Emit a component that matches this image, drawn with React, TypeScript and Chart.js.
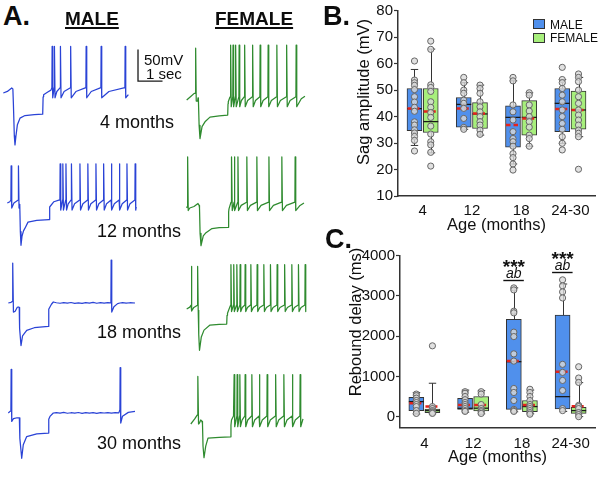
import React, { useEffect, useRef } from 'react';
import { Chart, registerables } from 'chart.js';

Chart.register(...registerables);

const FONT = '"Liberation Sans", Arial, Helvetica, sans-serif';

// ---------------- Panel A : voltage traces (time in s, membrane potential in mV) ----------------
type Pt = [number, number];

// Male 4 months
const M4_PATH: Pt[] = [[0.135, -60], [0.3, -57.5], [0.478, -52.1], [0.525, -53.5], [0.545, -75], [0.585, -128], [0.612, -142], [0.65, -128], [0.71, -110], [0.816, -99.7], [1.02, -95.6], [1.4, -94.2], [1.743, -93.3], [1.76, -66], [1.78, -62.7], [1.95, -58.5], [2.08, -55.5], [5.24, -62.5]];
const M4_SPIKES = [2.122, 2.216, 2.461, 2.878, 3.51, 4.122, 5.102];
const M4_LEVELS = [-51.6, 13.5, -67.5]; // threshold, peak, AHP

// Male 12 months
const M12_PATH: Pt[] = [[0.298, -60], [0.4, -58], [0.8, -62], [0.815, -64], [0.83, -105], [0.857, -126.7], [0.9, -112], [0.96, -104], [1.02, -99.7], [1.143, -90.2], [1.5, -87.5], [2.0, -86.2], [2.015, -70], [2.04, -66.3], [2.2, -58], [2.4, -55.5], [5.56, -66]];
const M12_PRE_SPIKES = [0.449, 0.747];
const M12_PRE_LEVELS = [-55.2, -1.3, -67.9];
const M12_SPIKES = [2.449, 2.559, 2.686, 2.91, 3.257, 3.58, 3.91, 4.224, 4.539, 4.865, 5.176, 5.51];
const M12_LEVELS = [-55.2, 1.9, -71.1];

// Male 18 months
const M18_PATH: Pt[] = [[0.339, -60], [0.45, -59], [0.5, -57.5], [0.62, -73], [0.7, -67], [0.75, -66.3], [0.785, -67], [0.8, -100], [0.857, -127.1], [0.92, -112], [1.09, -103.3], [1.4, -99], [1.971, -97], [1.99, -70], [2.01, -68.4], [2.1, -62], [2.176, -58.4], [2.3, -59.6], [2.45, -60.4], [2.6, -59.5], [2.75, -60.3], [2.9, -59.2], [3.05, -60.5], [3.2, -59.7], [3.35, -60.6], [3.5, -59.3], [3.65, -60.1], [3.8, -59], [3.95, -60.4], [4.1, -59.4], [4.25, -60.2], [4.4, -59.6], [4.5, -59.8], [4.65, -66], [4.8, -61], [4.898, -60], [5.0, -59.5], [5.15, -60.3], [5.3, -59.6], [5.51, -60]];
const M18_SPIKE_A = [0.518];
const M18_LEVELS_A = [-56, 3.0, -74.3];
const M18_SPIKE_B = [4.531];
const M18_LEVELS_B = [-56, 7.8, -74.3];

// Male 30 months
const M30_PATH: Pt[] = [[0.339, -60], [0.42, -57], [0.55, -69], [0.7, -67.5], [0.79, -67.5], [0.81, -100], [0.886, -131.4], [0.95, -110], [1.09, -97.1], [1.5, -93], [1.971, -91.7], [1.99, -70], [2.04, -65.4], [2.176, -60], [2.3, -59.3], [2.45, -60.2], [2.6, -59.1], [2.75, -60.4], [2.9, -59.6], [3.05, -60.1], [3.2, -59.2], [3.35, -60.5], [3.5, -59.5], [3.65, -60.2], [3.8, -59.4], [3.95, -60.6], [4.1, -59.5], [4.25, -60], [4.4, -59.3], [4.55, -60.3], [4.7, -59.5], [4.85, -59.8], [5.0, -65], [5.237, -59], [5.51, -57.5]];
const M30_SPIKE_A = [0.449];
const M30_LEVELS_A = [-55, 8.7, -73.3];
const M30_SPIKE_B = [4.898];
const M30_LEVELS_B = [-55, 11.4, -75.9];

// Female 4 months
const F4_PATH: Pt[] = [[0.273, -60], [0.45, -54], [0.58, -49.5], [0.72, -61.6], [0.735, -56.8], [0.75, -58], [0.78, -100], [0.816, -120.8], [0.9, -102], [1.02, -94.4], [1.224, -87], [1.6, -85], [1.947, -83.8], [1.96, -66], [1.971, -62.7], [2.04, -55.2], [4.95, -58], [5.1, -54]];
const F4_PRE_SPIKES = [0.633];
const F4_PRE_LEVELS = [-49, 21.7, -61.6];
const F4_SPIKES = [2.061, 2.159, 2.265, 2.408, 2.633, 2.959, 3.265, 3.592, 3.947, 4.347, 4.735];
const F4_LEVELS = [-54.8, 26.5, -70.6];

// Female 12 months
const F12_PATH: Pt[] = [[0.273, -60], [0.4, -60], [0.571, -57.6], [0.735, -52.9], [0.78, -56], [0.796, -60], [0.82, -100], [0.857, -119.5], [0.95, -104], [1.061, -98.9], [1.306, -92.5], [1.6, -91], [1.971, -90.5], [1.985, -66], [2.0, -61.3], [2.082, -50.8], [4.9, -56], [5.06, -52]];
const F12_PRE_SPIKES = [0.306];
const F12_PRE_LEVELS = [-57, 20.6, -64];
const F12_SPIKES = [2.102, 2.212, 2.359, 2.722, 3.131, 3.624, 4.151, 4.694];
const F12_LEVELS = [-50.8, 20.6, -64];

// Female 18 months
const F18_PATH: Pt[] = [[0.273, -60], [0.4, -57], [0.755, -62], [0.775, -100], [0.796, -125.1], [0.87, -104], [0.98, -93.3], [1.224, -85.4], [1.6, -84.4], [1.906, -83.8], [1.92, -70], [1.939, -66.8], [2.04, -56.3]];
const F18_PRE_SPIKES = [0.457, 0.714];
const F18_PRE_LEVELS = [-54, 7.1, -63.2];
const F18_SPIKES = [2.073, 2.188, 2.314, 2.449, 2.653, 2.886, 3.143, 3.416, 3.686, 3.959, 4.265, 4.559, 4.829, 5.102];
const F18_LEVELS = [-53.7, 9.8, -64];

// Female 30 months
const F30_PATH: Pt[] = [[0.441, -60], [0.6, -52], [0.7, -46], [0.8, -58], [0.845, -53.7], [0.9, -56], [0.918, -60], [0.94, -95], [0.98, -113.2], [1.05, -95], [1.143, -82.2], [1.6, -81], [2.061, -80.2], [2.08, -62], [2.102, -53.7], [2.184, -47.3], [5.02, -52]];
const F30_PRE_SPIKES = [0.727];
const F30_PRE_LEVELS = [-45, 15.1, -60];
const F30_SPIKES = [2.204, 2.327, 2.437, 2.653, 2.927, 3.233, 3.551, 3.898, 4.233, 4.58, 4.898];
const F30_LEVELS = [-47.3, 17.8, -64.3];

// Scale bar: 50 mV / 1 s
const SCALE_BAR_MV = 50;
const SCALE_BAR_S = 1;
const SCALE_BAR_CORNER: Pt = [5.633, -41.3];

const ROW_LABELS = ['4 months', '12 months', '18 months', '30 months'];

// ---------------- Panel B / C : box plots ----------------
const AGE_LABELS = ['4', '12', '18', '24-30'];
const SAG_TICKS = [10, 20, 30, 40, 50, 60, 70, 80];
const REB_TICKS = [0, 1000, 2000, 3000, 4000];

const SAG_MALE_Q = [[34.7, 50.6], [36.0, 47.2], [28.4, 44.1], [34.3, 50.6]];
const SAG_MALE_MED = [43.0, 44.6, 39.7, 45.0];
const SAG_MALE_MEAN = [43.1, 43.1, 36.8, 42.9];
const SAG_MALE_WHISK = [[29.1, 57.8], [35.2, 52.8], [22.1, 53.5], [29.9, 54.0]];
const SAG_MALE_PTS = [
  [61.0, 53.8, 52.8, 51.8, 50.2, 47.5, 45.5, 43.5, 42.0, 38.0, 36.8, 35.0, 33.8, 32.5, 31.0, 27.0],
  [54.8, 52.8, 50.0, 48.8, 46.2, 45.0, 43.1, 39.3, 35.9, 35.2],
  [54.8, 53.5, 44.4, 41.8, 38.7, 34.3, 31.7, 30.5, 28.8, 26.0, 24.5, 22.1, 19.8],
  [58.6, 54.0, 52.8, 50.6, 48.1, 45.6, 42.5, 40.0, 37.4, 35.2, 32.4, 29.9, 27.4],
];
const SAG_FEMALE_Q = [[34.0, 50.6], [35.5, 45.3], [33.0, 46.0], [35.2, 49.6]];
const SAG_FEMALE_MED = [38.1, 41.0, 39.7, 42.5];
const SAG_FEMALE_MEAN = [41.9, 41.2, 39.3, 42.5];
const SAG_FEMALE_WHISK = [[26.3, 65.5], [33.0, 51.9], [28.8, 49.0], [32.4, 54.8]];
const SAG_FEMALE_PTS = [
  [68.5, 65.4, 52.0, 51.0, 49.5, 45.6, 43.5, 41.5, 39.7, 36.4, 33.4, 30.5, 29.3, 26.5, 21.3],
  [51.9, 50.6, 48.8, 45.6, 43.7, 41.8, 40.0, 38.1, 36.8, 34.9, 33.3],
  [49.0, 48.1, 44.4, 42.1, 40.0, 38.1, 36.0, 33.0, 31.7, 28.8],
  [56.1, 54.8, 53.2, 50.0, 47.5, 45.0, 42.5, 40.6, 38.7, 36.8, 34.9, 33.7, 32.4, 20.1],
];

const REB_MALE_Q = [[150, 480], [180, 455], [180, 2420], [190, 2525]];
const REB_MALE_MED = [373, 207, 1366, 497];
const REB_MALE_MEAN = [330, 290, 1380, 1118];
const REB_MALE_WHISK = [[66, 600], [110, 660], [120, 3200], [130, 3296]];
const REB_MALE_PTS = [
  [560, 520, 460, 400, 350, 300, 250, 150, 80],
  [620, 580, 500, 420, 350, 300, 250, 200, 150, 130],
  [3200, 3150, 2620, 2580, 2100, 1990, 1560, 1380, 700, 600, 400, 180, 150, 130],
  [3400, 3250, 3100, 2950, 1300, 1100, 900, 650, 200, 150],
];
const REB_FEMALE_Q = [[100, 190], [140, 500], [125, 400], [80, 230]];
const REB_FEMALE_MED = [150, 210, 250, 150];
const REB_FEMALE_MEAN = [250, 290, 290, 256];
const REB_FEMALE_WHISK = [[70, 830], [70, 650], [70, 660], [0, 845]];
const REB_FEMALE_PTS = [
  [1760, 250, 200, 150, 120, 100, 80],
  [620, 560, 300, 200, 150, 120, 80],
  [680, 600, 500, 400, 300, 250, 200, 150, 100, 60],
  [1240, 960, 850, 280, 250, 200, 100, 50, 0],
];
const REB_SIG_STARS = ['', '', '***', '***'];
const REB_SIG_LETTERS = ['', '', 'ab', 'ab'];
const REB_SIG_AT: (number | null)[] = [null, null, 3400, 3590];

// ---------------- styling / layout ----------------
const MALE_TRACE = '#2a43d6';
const FEMALE_TRACE = '#2f8b2f';
const BLUE_BOX = '#5090ec';
const GREEN_BOX = '#a7ef7c';
const EDGE = '#333333';
const MEAN_RED = '#e5231b';
const PX_PER_S = 24.5;
const PX_PER_MV = 0.634;
const V_REF = -60;
const ABOVE = 60;
const TRACE_H = 125;
const GROUP_OFF = 0.165; // half-distance between male and female boxes, in category units
const BOX_W = 15;
const CAP = 3.7;

type Train = [number[], number[]];

function buildTrace(path: Pt[], trains: Train[]) {
  const pts: Pt[] = path.slice();
  for (const [times, lv] of trains) {
    const [thr, peak, ahp] = lv;
    times.forEach((t, i) => {
      pts.push([t - 0.004, thr], [t + 0.006, peak], [t + 0.03, ahp]);
      const next = times[i + 1];
      if (next !== undefined && next - t > 0.2) {
        const gap = next - t;
        pts.push([t + 0.03 + 0.3 * gap, ahp + 0.62 * (thr - ahp)]);
      }
    });
  }
  pts.sort((a, b) => a[0] - b[0]);
  return pts.map(([x, y]) => ({ x, y }));
}

const TRACES = [
  { left: 0, width: 170, base: 93.3, color: MALE_TRACE, path: M4_PATH, trains: [[M4_SPIKES, M4_LEVELS]] as Train[], bar: true },
  { left: 0, width: 170, base: 203, color: MALE_TRACE, path: M12_PATH, trains: [[M12_PRE_SPIKES, M12_PRE_LEVELS], [M12_SPIKES, M12_LEVELS]] as Train[] },
  { left: 0, width: 170, base: 302.7, color: MALE_TRACE, path: M18_PATH, trains: [[M18_SPIKE_A, M18_LEVELS_A], [M18_SPIKE_B, M18_LEVELS_B]] as Train[] },
  { left: 0, width: 170, base: 413.3, color: MALE_TRACE, path: M30_PATH, trains: [[M30_SPIKE_A, M30_LEVELS_A], [M30_SPIKE_B, M30_LEVELS_B]] as Train[] },
  { left: 180, width: 130, base: 100, color: FEMALE_TRACE, path: F4_PATH, trains: [[F4_PRE_SPIKES, F4_PRE_LEVELS], [F4_SPIKES, F4_LEVELS]] as Train[] },
  { left: 180, width: 130, base: 207.5, color: FEMALE_TRACE, path: F12_PATH, trains: [[F12_PRE_SPIKES, F12_PRE_LEVELS], [F12_SPIKES, F12_LEVELS]] as Train[] },
  { left: 180, width: 130, base: 309, color: FEMALE_TRACE, path: F18_PATH, trains: [[F18_PRE_SPIKES, F18_PRE_LEVELS], [F18_SPIKES, F18_LEVELS]] as Train[] },
  { left: 180, width: 130, base: 424, color: FEMALE_TRACE, path: F30_PATH, trains: [[F30_PRE_SPIKES, F30_PRE_LEVELS], [F30_SPIKES, F30_LEVELS]] as Train[] },
];

function TraceChart(props: { left: number; width: number; base: number; color: string; path: Pt[]; trains: Train[]; bar?: boolean }) {
  const ref = useRef<HTMLCanvasElement>(null);
  const top = props.base - ABOVE;
  useEffect(() => {
    const datasets: any[] = [
      { data: buildTrace(props.path, props.trains), borderColor: props.color, borderWidth: 1.25, pointRadius: 0, tension: 0, borderJoinStyle: 'round', clip: false },
    ];
    if (props.bar) {
      const [t0, v0] = SCALE_BAR_CORNER;
      datasets.push({
        data: [{ x: t0, y: v0 + SCALE_BAR_MV }, { x: t0, y: v0 }, { x: t0 + SCALE_BAR_S, y: v0 }],
        borderColor: '#1a1a1a', borderWidth: 1.3, pointRadius: 0, tension: 0, clip: false,
      });
    }
    const chart = new Chart(ref.current as HTMLCanvasElement, {
      type: 'line',
      data: { datasets },
      options: {
        animation: false, responsive: false, devicePixelRatio: 1, events: [],
        layout: { padding: 0 },
        plugins: { legend: { display: false }, tooltip: { enabled: false } },
        scales: {
          x: { type: 'linear', display: false, min: 0, max: props.width / PX_PER_S },
          y: { type: 'linear', display: false, min: V_REF - (TRACE_H - ABOVE) / PX_PER_MV, max: V_REF + ABOVE / PX_PER_MV },
        },
      } as any,
    });
    return () => chart.destroy();
  }, []);
  return <canvas ref={ref} width={props.width} height={TRACE_H} style={{ position: 'absolute', left: props.left, top, width: props.width, height: TRACE_H }} />;
}

type BoxSet = { q: number[][]; med: number[]; mean: number[]; whisk: number[][]; pts: number[][] };

function makeBoxPlugin(sig?: { stars: string[]; letters: string[]; at: (number | null)[] }) {
  return {
    id: 'boxDetails',
    afterDatasetDraw(chart: any, args: any) {
      const ds = chart.data.datasets[args.index];
      const st = ds.boxStats;
      if (!st) return;
      const ctx = chart.ctx;
      const ys = chart.scales.y;
      const py = (v: number) => ys.getPixelForValue(v);
      ctx.save();
      args.meta.data.forEach((el: any, i: number) => {
        const x = Math.round(el.x) + 0.5;
        const hw = el.width / 2;
        const [q1, q3] = st.q[i];
        const [wl, wh] = st.whisk[i];
        ctx.setLineDash([]);
        ctx.strokeStyle = EDGE;
        ctx.lineWidth = 1;
        ctx.beginPath();
        ctx.moveTo(x, py(q3)); ctx.lineTo(x, py(wh));
        ctx.moveTo(x - CAP, py(wh)); ctx.lineTo(x + CAP, py(wh));
        ctx.moveTo(x, py(q1)); ctx.lineTo(x, py(wl));
        ctx.moveTo(x - CAP, py(wl)); ctx.lineTo(x + CAP, py(wl));
        ctx.stroke();
        ctx.strokeStyle = '#1a1a1a';
        ctx.lineWidth = 1.3;
        ctx.beginPath();
        ctx.moveTo(el.x - hw, py(st.med[i])); ctx.lineTo(el.x + hw, py(st.med[i]));
        ctx.stroke();
        ctx.strokeStyle = MEAN_RED;
        ctx.lineWidth = 2.5;
        ctx.setLineDash([4.5, 3]);
        ctx.beginPath();
        ctx.moveTo(el.x - hw + 0.5, py(st.mean[i])); ctx.lineTo(el.x + hw, py(st.mean[i]));
        ctx.stroke();
      });
      ctx.restore();
    },
    afterDatasetsDraw(chart: any) {
      if (!sig) return;
      const ctx = chart.ctx;
      const ys = chart.scales.y;
      const meta = chart.getDatasetMeta(0);
      ctx.save();
      sig.at.forEach((v, i) => {
        if (v === null) return;
        const el = meta.data[i];
        const x = el.x;
        const y = Math.round(ys.getPixelForValue(v)) + 0.5;
        ctx.strokeStyle = '#111';
        ctx.lineWidth = 1.4;
        ctx.beginPath();
        ctx.moveTo(x - 10.5, y); ctx.lineTo(x + 10, y);
        ctx.stroke();
        ctx.fillStyle = '#111';
        ctx.textAlign = 'center';
        ctx.textBaseline = 'alphabetic';
        ctx.font = `italic 14px ${FONT}`;
        ctx.fillText(sig.letters[i], x, y - 3);
        ctx.font = `bold 19px ${FONT}`;
        ctx.fillText(sig.stars[i], x, y - 7.5);
      });
      ctx.restore();
    },
  };
}

function BoxChart(props: {
  left: number; top: number; width: number; height: number;
  pad: { top: number; right: number; bottom: number; left: number };
  yWidth: number; yMin: number; yMax: number; yTicks: number[];
  xTickPad: number; xTitlePad: number;
  male: BoxSet; female: BoxSet;
  sig?: { stars: string[]; letters: string[]; at: (number | null)[] };
}) {
  const ref = useRef<HTMLCanvasElement>(null);
  useEffect(() => {
    const pointStyle = {
      pointRadius: 3.1, pointBorderWidth: 1, pointBorderColor: '#666', pointBackgroundColor: 'rgba(218,218,218,0.8)',
    };
    const mkPts = (set: BoxSet, sign: number) =>
      set.pts.flatMap((arr, i) => arr.map((v) => ({ x: i + sign * GROUP_OFF, y: v })));
    const mkBoxes = (set: BoxSet, sign: number) => set.q.map((r, i) => ({ x: i + sign * GROUP_OFF, y: r }));
    const tickFont = { family: FONT, size: 15 };
    const chart = new Chart(ref.current as HTMLCanvasElement, {
      type: 'bar',
      data: {
        datasets: [
          {
            type: 'bar', label: 'MALE', data: mkBoxes(props.male, -1), backgroundColor: BLUE_BOX, borderColor: EDGE, borderWidth: 1,
            borderSkipped: false, grouped: false, barThickness: BOX_W, order: 2,
            boxStats: { q: props.male.q, med: props.male.med, mean: props.male.mean, whisk: props.male.whisk },
          },
          {
            type: 'bar', label: 'FEMALE', data: mkBoxes(props.female, 1), backgroundColor: GREEN_BOX, borderColor: EDGE, borderWidth: 1,
            borderSkipped: false, grouped: false, barThickness: BOX_W, order: 2,
            boxStats: { q: props.female.q, med: props.female.med, mean: props.female.mean, whisk: props.female.whisk },
          },
          { type: 'scatter', data: mkPts(props.male, -1), order: 0, ...pointStyle },
          { type: 'scatter', data: mkPts(props.female, 1), order: 0, ...pointStyle },
        ] as any,
      },
      options: {
        animation: false, responsive: false, devicePixelRatio: 1, events: [],
        layout: { padding: props.pad },
        plugins: { legend: { display: false }, tooltip: { enabled: false } },
        scales: {
          x: {
            type: 'linear', offset: false, min: -0.5, max: AGE_LABELS.length - 0.5,
            grid: { display: true, drawOnChartArea: false, drawTicks: false, offset: false },
            border: { display: true, color: EDGE, width: 1.5 },
            ticks: {
              autoSkip: false, maxRotation: 0,
              color: '#111', font: tickFont, padding: props.xTickPad,
              callback: (v: any) => AGE_LABELS[Math.round(v)] ?? '',
            },
            afterBuildTicks: (s: any) => { s.ticks = AGE_LABELS.map((_, i) => ({ value: i })); },
            title: { display: true, text: 'Age (months)', color: '#111', font: { family: FONT, size: 16.5 }, padding: { top: 0, bottom: props.xTitlePad } },
            afterFit: (s: any) => { s.height = 40; },
          },
          y: {
            type: 'linear', min: props.yMin, max: props.yMax, beginAtZero: false,
            border: { display: true, color: EDGE, width: 1.5 },
            grid: { drawOnChartArea: false, drawTicks: true, tickLength: 4, tickColor: EDGE, tickWidth: 1.2 },
            ticks: {
              color: '#111', font: tickFont, padding: 1, autoSkip: false,
              callback: (v: any) => String(v),
            },
            afterBuildTicks: (s: any) => { s.ticks = props.yTicks.map((v) => ({ value: v })); },
            afterFit: (s: any) => { s.width = props.yWidth; },
          },
        },
      } as any,
      plugins: [makeBoxPlugin(props.sig) as any],
    });
    return () => chart.destroy();
  }, []);
  return <canvas ref={ref} width={props.width} height={props.height} style={{ position: 'absolute', left: props.left, top: props.top, width: props.width, height: props.height }} />;
}

function Txt(props: { x: number; base: number; size: number; bold?: boolean; italic?: boolean; underline?: boolean; children: React.ReactNode }) {
  return (
    <div
      style={{
        position: 'absolute', left: props.x, top: props.base - 0.8465 * props.size,
        fontSize: props.size, lineHeight: `${props.size}px`, fontWeight: props.bold ? 700 : 400,
        fontStyle: props.italic ? 'italic' : 'normal', whiteSpace: 'nowrap', color: '#0d0d0d',
        textDecoration: props.underline ? 'underline' : 'none', textDecorationThickness: props.underline ? '2px' : undefined,
        textUnderlineOffset: props.underline ? '2px' : undefined,
      }}
    >
      {props.children}
    </div>
  );
}

function VTitle(props: { cx: number; cy: number; text: string }) {
  return (
    <div style={{ position: 'absolute', left: props.cx, top: props.cy, transform: 'translate(-50%, -50%) rotate(-90deg)', fontSize: 16.5, lineHeight: '16.5px', whiteSpace: 'nowrap', color: '#0d0d0d' }}>
      {props.text}
    </div>
  );
}

export default function App() {
  useEffect(() => {
    document.body.style.margin = '0';
  }, []);
  const rowBases = [128.5, 237, 338, 449];
  const rowLefts = [100, 97, 97, 97];
  return (
    <div style={{ position: 'absolute', left: 0, top: 0, width: 600, height: 485, background: '#fff', overflow: 'hidden', fontFamily: FONT }}>
      {TRACES.map((t, i) => (
        <TraceChart key={i} {...t} />
      ))}
      <BoxChart
        left={340} top={0} width={260} height={240}
        pad={{ top: 10.7, right: 3, bottom: 4, left: 0 }}
        yWidth={58} yMin={10} yMax={80} yTicks={SAG_TICKS} xTickPad={6} xTitlePad={0.5}
        male={{ q: SAG_MALE_Q, med: SAG_MALE_MED, mean: SAG_MALE_MEAN, whisk: SAG_MALE_WHISK, pts: SAG_MALE_PTS }}
        female={{ q: SAG_FEMALE_Q, med: SAG_FEMALE_MED, mean: SAG_FEMALE_MEAN, whisk: SAG_FEMALE_WHISK, pts: SAG_FEMALE_PTS }}
      />
      <BoxChart
        left={340} top={240} width={260} height={245}
        pad={{ top: 15.7, right: 3, bottom: 17.3, left: 0 }}
        yWidth={60} yMin={-275} yMax={4000} yTicks={REB_TICKS} xTickPad={7.3} xTitlePad={0}
        male={{ q: REB_MALE_Q, med: REB_MALE_MED, mean: REB_MALE_MEAN, whisk: REB_MALE_WHISK, pts: REB_MALE_PTS }}
        female={{ q: REB_FEMALE_Q, med: REB_FEMALE_MED, mean: REB_FEMALE_MEAN, whisk: REB_FEMALE_WHISK, pts: REB_FEMALE_PTS }}
        sig={{ stars: REB_SIG_STARS, letters: REB_SIG_LETTERS, at: REB_SIG_AT }}
      />

      <Txt x={3} base={25.5} size={27} bold>A.</Txt>
      <Txt x={65} base={25} size={19} bold underline>MALE</Txt>
      <Txt x={215} base={25} size={19} bold underline>FEMALE</Txt>
      <Txt x={144} base={64.5} size={15}>50mV</Txt>
      <Txt x={146} base={78.5} size={15}>1 sec</Txt>
      {ROW_LABELS.map((l, i) => (
        <Txt key={l} x={rowLefts[i]} base={rowBases[i]} size={18}>{l}</Txt>
      ))}

      <Txt x={323} base={25.5} size={27} bold>B.</Txt>
      <Txt x={325} base={249} size={27} bold>C.</Txt>
      <VTitle cx={363} cy={91.7} text="Sag amplitude (mV)" />
      <VTitle cx={355} cy={321.7} text="Rebound delay (ms)" />

      <div style={{ position: 'absolute', left: 533, top: 19, width: 10, height: 8, background: BLUE_BOX, border: `1px solid ${EDGE}` }} />
      <div style={{ position: 'absolute', left: 533, top: 33, width: 10, height: 8, background: GREEN_BOX, border: `1px solid ${EDGE}` }} />
      <Txt x={550} base={29} size={12}>MALE</Txt>
      <Txt x={550} base={42.5} size={12}>FEMALE</Txt>
    </div>
  );
}
